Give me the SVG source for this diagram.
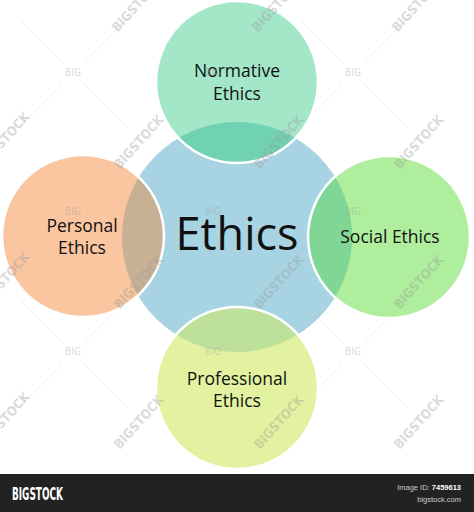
<svg xmlns="http://www.w3.org/2000/svg" width="474" height="512" viewBox="0 0 474 512">
<defs>
<style>
.lbl{font-family:"Open Sans","Noto Sans",sans-serif;font-size:17.5px;fill:#111;text-anchor:middle}
.big{font-family:"Open Sans","Noto Sans",sans-serif;font-size:45px;fill:#111;text-anchor:middle}
.rim{fill:none;stroke:#fff;stroke-width:2.5}
.wm{font-family:"Liberation Sans Narrow","DejaVu Sans Condensed",sans-serif;font-size:13px;fill:#9a9a9a;opacity:0.35;text-anchor:middle;font-weight:bold}
.wb{font-family:"Liberation Sans Narrow","DejaVu Sans Condensed",sans-serif;font-size:10px;fill:#9a9a9a;opacity:0.35;text-anchor:middle}
.gl{stroke:#e6e6e6;stroke-width:1;opacity:0.6}
</style>
<clipPath id="cc"><circle cx="237" cy="237" r="115"/></clipPath>
</defs>
<rect width="474" height="512" fill="#fff"/>
<g id="grid">
<line class="gl" x1="20" y1="20" x2="63" y2="63"/><line class="gl" x1="83" y1="83" x2="126" y2="126"/>
<line class="gl" x1="126" y1="20" x2="83" y2="63"/><line class="gl" x1="63" y1="83" x2="20" y2="126"/>
<line class="gl" x1="300" y1="20" x2="343" y2="63"/><line class="gl" x1="363" y1="83" x2="406" y2="126"/>
<line class="gl" x1="406" y1="20" x2="363" y2="63"/><line class="gl" x1="343" y1="83" x2="300" y2="126"/>
<line class="gl" x1="20" y1="300" x2="63" y2="343"/><line class="gl" x1="83" y1="363" x2="126" y2="406"/>
<line class="gl" x1="126" y1="300" x2="83" y2="343"/><line class="gl" x1="63" y1="363" x2="20" y2="406"/>
<line class="gl" x1="300" y1="300" x2="343" y2="343"/><line class="gl" x1="363" y1="363" x2="406" y2="406"/>
<line class="gl" x1="406" y1="300" x2="363" y2="343"/><line class="gl" x1="343" y1="363" x2="300" y2="406"/>
</g>
<g id="ethics">
<circle cx="237" cy="237" r="115" fill="#a7d3e2"/>
</g>
<g id="normative">
<circle cx="237" cy="82" r="81" fill="#a3e6c8"/>
<circle cx="237" cy="82" r="81" fill="#71d1b3" clip-path="url(#cc)"/>
<circle class="rim" cx="237" cy="82" r="81"/>
<text class="lbl" x="237" y="77">Normative</text>
<text class="lbl" x="237" y="100">Ethics</text>
</g>
<g id="personal">
<circle cx="83" cy="236" r="81" fill="#f9c6a0"/>
<circle cx="83" cy="236" r="81" fill="#c8b095" clip-path="url(#cc)"/>
<circle class="rim" cx="83" cy="236" r="81"/>
<text class="lbl" x="82" y="232">Personal</text>
<text class="lbl" x="82" y="254">Ethics</text>
</g>
<g id="social">
<circle cx="389" cy="237" r="81" fill="#aeee9c"/>
<circle cx="389" cy="237" r="81" fill="#80d795" clip-path="url(#cc)"/>
<circle class="rim" cx="389" cy="237" r="81"/>
<text class="lbl" x="390" y="243">Social Ethics</text>
</g>
<g id="professional">
<circle cx="237" cy="388" r="81" fill="#e2f2a0"/>
<circle cx="237" cy="388" r="81" fill="#bde09a" clip-path="url(#cc)"/>
<circle class="rim" cx="237" cy="388" r="81"/>
<text class="lbl" x="237" y="385">Professional</text>
<text class="lbl" x="237" y="407">Ethics</text>
</g>
<text class="big" x="237" y="250">Ethics</text>
<g id="watermarks">
<text class="wb" x="73" y="76">BIG</text><text class="wb" x="213" y="76">BIG</text><text class="wb" x="353" y="76">BIG</text>
<text class="wb" x="73" y="215">BIG</text><text class="wb" x="213" y="215">BIG</text><text class="wb" x="353" y="215">BIG</text>
<text class="wb" x="73" y="355">BIG</text><text class="wb" x="213" y="355">BIG</text><text class="wb" x="353" y="355">BIG</text>
<text class="wm" transform="translate(140,8) rotate(-48)">BIGSTOCK</text>
<text class="wm" transform="translate(280,8) rotate(-48)">BIGSTOCK</text>
<text class="wm" transform="translate(420,8) rotate(-48)">BIGSTOCK</text>
<text class="wm" transform="translate(8,142) rotate(-48)">BIGSTOCK</text>
<text class="wm" transform="translate(142,145) rotate(-48)">BIGSTOCK</text>
<text class="wm" transform="translate(282,145) rotate(-48)">BIGSTOCK</text>
<text class="wm" transform="translate(422,145) rotate(-48)">BIGSTOCK</text>
<text class="wm" transform="translate(8,282) rotate(-48)">BIGSTOCK</text>
<text class="wm" transform="translate(142,285) rotate(-48)">BIGSTOCK</text>
<text class="wm" transform="translate(282,285) rotate(-48)">BIGSTOCK</text>
<text class="wm" transform="translate(422,285) rotate(-48)">BIGSTOCK</text>
<text class="wm" transform="translate(8,422) rotate(-48)">BIGSTOCK</text>
<text class="wm" transform="translate(142,425) rotate(-48)">BIGSTOCK</text>
<text class="wm" transform="translate(282,425) rotate(-48)">BIGSTOCK</text>
<text class="wm" transform="translate(422,425) rotate(-48)">BIGSTOCK</text>
</g>
<g id="footer">
<rect x="0" y="474" width="474" height="38" fill="#222"/>
<text x="12" y="500" font-family="Liberation Sans Narrow,DejaVu Sans Condensed,sans-serif" font-size="18" font-weight="bold" fill="#fff" textLength="51" lengthAdjust="spacingAndGlyphs">BIGSTOCK</text>
<text x="461" y="490" font-family="Liberation Sans,Arial,sans-serif" font-size="7.5" fill="#ccc" text-anchor="end">Image ID: <tspan font-weight="bold" fill="#fff">7459613</tspan></text>
<text x="461" y="502" font-family="Liberation Sans,Arial,sans-serif" font-size="7.5" fill="#ccc" text-anchor="end">bigstock.com</text>
</g>
</svg>
